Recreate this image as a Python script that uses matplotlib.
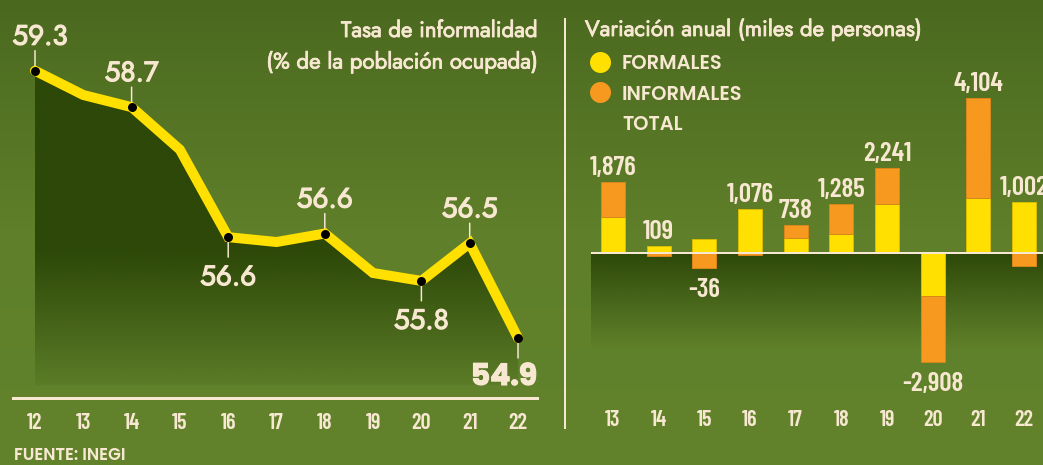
import numpy as np
import matplotlib
matplotlib.use("Agg")
import matplotlib.pyplot as plt
from matplotlib import font_manager as fm
from matplotlib import patheffects as pe
from matplotlib.colors import to_rgb

# ---------------- data ----------------
years_tasa = [12, 13, 14, 15, 16, 17, 18, 19, 20, 21, 22]
tasa = [59.3, 58.9, 58.7, 58.0, 56.56, 56.48, 56.62, 55.97, 55.84, 56.46, 54.9]
tasa_labeled_years = [12, 14, 16, 18, 20, 21, 22]
tasa_label_side = ["above", "above", "below", "above", "below", "above", "below"]
tick_labels_left = ["12", "13", "14", "15", "16", "17", "18", "19", "20", "21", "22"]

years_var = [13, 14, 15, 16, 17, 18, 19, 20, 21, 22]
formales = [955, 185, 370, 1150, 390, 500, 1285, -1160, 1460, 1350]
informales = [921, -76, -406, -74, 348, 785, 956, -1748, 2644, -348]
totales = [1876, 109, -36, 1076, 738, 1285, 2241, -2908, 4104, 1002]
tick_labels_right = ["13", "14", "15", "16", "17", "18", "19", "20", "21", "22"]

title_left = ["Tasa de informalidad", "(% de la población ocupada)"]
title_right = "Variación anual (miles de personas)"
legend_labels = ["FORMALES", "INFORMALES", "TOTAL"]
source_text = "FUENTE: INEGI"

# ---------------- style ----------------
YEL = "#ffe000"
ORA = "#f7991e"
CREAM = "#f8e8d2"
DARK = "#2d4808"

names = {f.name for f in fm.fontManager.ttflist}
def pick(cands):
    for c in cands:
        if c in names:
            return c
    return "DejaVu Sans"
NUM_FONT = pick(["Barlow Condensed", "Roboto Condensed", "Liberation Sans Narrow", "DejaVu Sans"])
TXT_FONT = pick(["Jost", "Lato", "DejaVu Sans"])
BOLD_FONT = pick(["Poppins", "Lato", "DejaVu Sans"])
PT = 0.72  # points per pixel at dpi 100
thick_title = [pe.withStroke(linewidth=0.6, foreground=CREAM)]
thick_lab = [pe.withStroke(linewidth=0.9, foreground=CREAM)]
thick_bold = [pe.withStroke(linewidth=0.8, foreground=CREAM)]

W, H = 1043, 465
fig = plt.figure(figsize=(W / 100, H / 100), dpi=100)

# background gradient + decoration axes (pixel coordinates)
bg = fig.add_axes([0, 0, 1, 1], zorder=0)
bg.set_xlim(0, W)
bg.set_ylim(H, 0)
bg.axis("off")
c_top, c_mid, c_bot = (np.array(to_rgb(c)) for c in ("#4a691f", "#5f7f2a", "#62832c"))
grad = np.zeros((H, 1, 3))
for r in range(H):
    if r < 230:
        t = r / 230
        grad[r, 0] = c_top * (1 - t) + c_mid * t
    else:
        t = (r - 230) / (H - 230)
        grad[r, 0] = c_mid * (1 - t) + c_bot * t
bg.imshow(grad, extent=(0, W, H, 0), aspect="auto", interpolation="bilinear")

# titles
bg.text(537, 37, title_left[0], ha="right", va="baseline", color=CREAM,
        fontsize=16, family=TXT_FONT, path_effects=thick_title)
bg.text(537, 68.5, title_left[1], ha="right", va="baseline", color=CREAM,
        fontsize=16, family=TXT_FONT, path_effects=thick_title)
bg.text(585, 36, title_right, ha="left", va="baseline", color=CREAM,
        fontsize=16, family=TXT_FONT, path_effects=thick_title)
# legend
leg_y = [62, 92.5, 123]
leg_colors = [YEL, ORA, None]
for yy, lab, col in zip(leg_y, legend_labels, leg_colors):
    if col is not None:
        bg.scatter([600], [yy], s=(21 * PT) ** 2, color=col, linewidths=0, zorder=3)
    bg.text(622, yy + 7, lab, ha="left", va="baseline", color=CREAM,
            fontsize=14, family=BOLD_FONT, weight=600)
# separator
bg.plot([565, 565], [18, 429], color=CREAM, lw=2 * PT, solid_capstyle="butt")
# source
bg.text(14, 459.5, source_text, ha="left", va="baseline", color=CREAM,
        fontsize=12, family=BOLD_FONT, weight=600)

# ---------------- left panel ----------------
L_x0, L_x1, L_ybot = 13, 537, 398
x12_px, px_year_L = 35, 48.3
y_top_px, px_unit_L = 70.7, 60.75
xlimL = (years_tasa[0] - (x12_px - L_x0) / px_year_L,
         years_tasa[-1] + (L_x1 - (x12_px + 10 * px_year_L)) / px_year_L)
ylimL = (tasa[0] - (L_ybot - y_top_px) / px_unit_L, tasa[0] + y_top_px / px_unit_L)
axL = fig.add_axes([L_x0 / W, (H - L_ybot) / H, (L_x1 - L_x0) / W, L_ybot / H], zorder=2)
axL.set_facecolor("none")

fill_bottom = ylimL[0] + (L_ybot - 385) / px_unit_L
fade_start = tasa[0] - (250 - y_top_px) / px_unit_L
poly = axL.fill_between(years_tasa, tasa, fill_bottom, facecolor="none", edgecolor="none")
N = 300
vals = np.linspace(max(tasa), fill_bottom, N)
alpha = np.clip((vals - fill_bottom) / (fade_start - fill_bottom), 0, 1) * 0.9 + 0.1
rgba = np.zeros((N, 1, 4))
rgba[:, 0, :3] = to_rgb(DARK)
rgba[:, 0, 3] = alpha
im = axL.imshow(rgba, extent=(years_tasa[0], years_tasa[-1], fill_bottom, max(tasa)),
                aspect="auto", origin="upper", zorder=1, interpolation="bilinear")
im.set_clip_path(poly.get_paths()[0], axL.transData)

axL.plot(years_tasa, tasa, color=YEL, lw=10 * PT, solid_joinstyle="miter",
         solid_capstyle="round", zorder=4)
lab_vals = [tasa[years_tasa.index(y)] for y in tasa_labeled_years]
axL.scatter(tasa_labeled_years, lab_vals, s=(9 * PT) ** 2, color="black",
            linewidths=0, zorder=5)
for k, (x, v, side) in enumerate(zip(tasa_labeled_years, lab_vals, tasa_label_side)):
    sgn = 1 if side == "above" else -1
    axL.annotate("", xy=(x, v), xytext=(0, sgn * 20), textcoords="offset pixels",
                 arrowprops=dict(arrowstyle="-", color=CREAM, lw=1.5 * PT,
                                 shrinkA=0, shrinkB=0), zorder=3)
    is_last = k == len(tasa_labeled_years) - 1
    dx = 5 if k == 0 else 0
    if side == "above":
        off = (dx, 26)
    else:
        off = (dx, -48)
    if is_last:
        axL.annotate(f"{v:.1f}", xy=(x, v), xytext=(19, -47), textcoords="offset pixels",
                     ha="right", va="baseline", color=CREAM, family=BOLD_FONT,
                     fontsize=21.5, weight=700, zorder=6, path_effects=thick_bold)
    else:
        axL.annotate(f"{v:.1f}", xy=(x, v), xytext=off, textcoords="offset pixels",
                     ha="center", va="baseline", color=CREAM, family=TXT_FONT,
                     fontsize=20, zorder=6, path_effects=thick_lab)

axL.set_xlim(*xlimL)
axL.set_ylim(*ylimL)
for s in ("top", "left", "right"):
    axL.spines[s].set_visible(False)
axL.spines["bottom"].set_color(CREAM)
axL.spines["bottom"].set_linewidth(3 * PT)
axL.set_yticks([])
axL.set_xticks(years_tasa)
axL.set_xticklabels(tick_labels_left, family=NUM_FONT, weight=600,
                    fontsize=16, color=CREAM)
axL.tick_params(axis="x", length=0, pad=10.5)

# ---------------- right panel ----------------
R_x0, R_x1, R_ybot = 591, 1043, 398
x13_px, px_year_R = 613, 45.67
base_px, units_px = 252.7, 26.53
xlimR = (years_var[0] - (x13_px - R_x0) / px_year_R,
         years_var[-1] + (R_x1 - (x13_px + 9 * px_year_R)) / px_year_R)
ylimR = (-(R_ybot - base_px) * units_px, base_px * units_px)
axR = fig.add_axes([R_x0 / W, (H - R_ybot) / H, (R_x1 - R_x0) / W, R_ybot / H], zorder=2)
axR.set_facecolor("none")

# dark band under zero line
dark_bot = -(350 - base_px) * units_px
N = 200
rgbaR = np.zeros((N, 1, 4))
rgbaR[:, 0, :3] = to_rgb(DARK)
rgbaR[:, 0, 3] = np.linspace(1, 0, N) ** 1.1
axR.imshow(rgbaR, extent=(xlimR[0], xlimR[1], dark_bot, 0), aspect="auto",
           origin="upper", zorder=1, interpolation="bilinear")

bw = 24 / px_year_R
for x, f, i, tot in zip(years_var, formales, informales, totales):
    pos, neg = 0, 0
    axR.bar(x, f, bottom=0, width=bw, color=YEL, edgecolor="#d8bd00", lw=0.7, zorder=3)
    if f >= 0:
        pos = f
    else:
        neg = f
    if i >= 0:
        axR.bar(x, i, bottom=pos, width=bw, color=ORA, edgecolor="#d8861a", lw=0.7, zorder=3)
        pos += i
    else:
        axR.bar(x, i, bottom=neg, width=bw, color=ORA, edgecolor="#d8861a", lw=0.7, zorder=3)
        neg += i
    if tot >= 0:
        axR.annotate(f"{tot:,}", xy=(x, pos), xytext=(0, 7), textcoords="offset pixels",
                     ha="center", va="baseline", color=CREAM, family=NUM_FONT,
                     weight=600, fontsize=19.5, zorder=6, annotation_clip=False)
    else:
        axR.annotate(f"{tot:,}", xy=(x, neg), xytext=(0, -10), textcoords="offset pixels",
                     ha="center", va="top", color=CREAM, family=NUM_FONT,
                     weight=600, fontsize=19.5, zorder=6, annotation_clip=False)

axR.axhline(0, color=CREAM, lw=2 * PT, zorder=5)
axR.set_xlim(*xlimR)
axR.set_ylim(*ylimR)
for s in ("top", "left", "right", "bottom"):
    axR.spines[s].set_visible(False)
axR.set_yticks([])
axR.set_xticks(years_var)
axR.set_xticklabels(tick_labels_right, family=NUM_FONT, weight=600,
                    fontsize=16, color=CREAM)
axR.tick_params(axis="x", length=0, pad=8.5)

fig.savefig("out.png", dpi=100)
